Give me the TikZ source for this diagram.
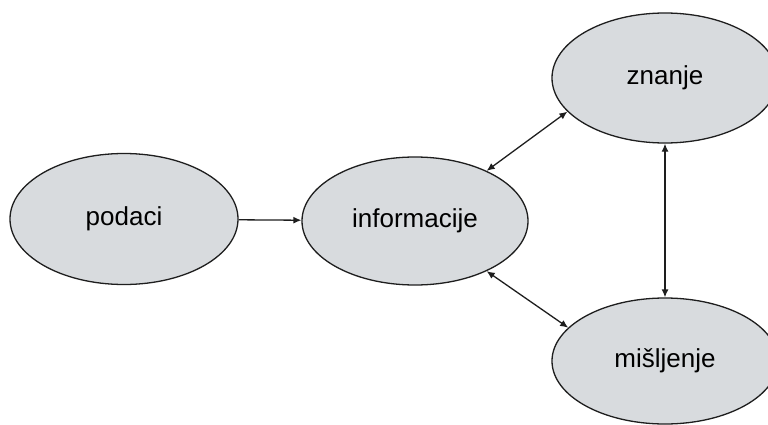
\documentclass[tikz,border=0pt]{standalone}
\usepackage{fontspec}
\setmainfont{Liberation Sans}
\usetikzlibrary{shapes.geometric,arrows.meta}
\definecolor{ellfill}{RGB}{216,219,222}
\definecolor{ellline}{RGB}{30,30,30}
\tikzset{
  bubble/.style={ellipse, draw=ellline, line width=1.3pt, fill=ellfill,
    minimum width=#1, font=\fontsize{26}{30}\selectfont, inner sep=0pt},
  conn/.style={line width=1.3pt, draw=ellline, -{Latex[length=8pt,width=7pt]}},
  bidir/.style={line width=1.3pt, draw=ellline, {Latex[length=8pt,width=7pt]}-{Latex[length=8pt,width=7pt]}}
}
\begin{document}
\begin{tikzpicture}[x=1pt,y=1pt]
\useasboundingbox (0,0) rectangle (768,424);
\clip (0,0) rectangle (768,424);
\fill[white] (0,0) rectangle (768,424);
\node[bubble=228pt, minimum height=131pt] (pod) at (124,205) {podaci};
\node[bubble=226pt, minimum height=128pt] (inf) at (415,203) {informacije};
\node[bubble=226pt, minimum height=130pt] (zna) at (665,346) {znanje};
\node[bubble=226pt, minimum height=126pt] (mis) at (665,63) {mišljenje};
\draw[conn] (pod) -- (inf);
\draw[bidir] (inf.35) -- (zna.199);
\draw[bidir] (inf.-35) -- (mis.161);
\draw[bidir] (zna) -- (mis);
\end{tikzpicture}
\end{document}
